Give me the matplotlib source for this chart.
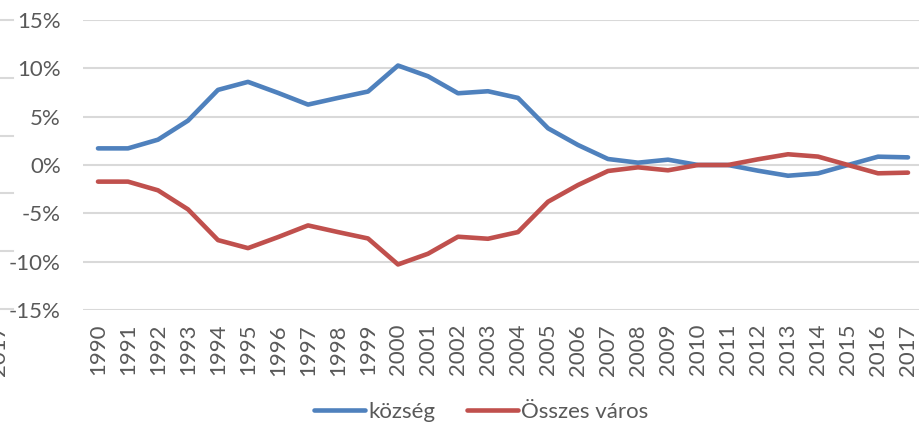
import matplotlib
matplotlib.use("Agg")
import matplotlib.pyplot as plt
from matplotlib.ticker import PercentFormatter
from matplotlib.lines import Line2D

years = [str(y) for y in range(1990, 2018)]
kozseg = [1.72, 1.72, 2.62, 4.59, 7.77, 8.60, 7.46, 6.25, 6.94, 7.60,
          10.29, 9.18, 7.42, 7.63, 6.94, 3.80, 2.07, 0.62, 0.24, 0.55,
          0.00, 0.00, -0.59, -1.11, -0.87, 0.00, 0.86, 0.79]
osszes_varos = [-1.72, -1.72, -2.62, -4.59, -7.77, -8.60, -7.46, -6.25, -6.94, -7.60,
                -10.29, -9.18, -7.42, -7.63, -6.94, -3.80, -2.07, -0.62, -0.24, -0.55,
                0.00, 0.00, 0.59, 1.11, 0.87, 0.00, -0.86, -0.79]
series_names = ["község", "Összes város"]

BLUE = "#4f81bd"
RED = "#c0504d"
TEXT = "#595959"
GRID = "#d9d9d9"

plt.rcParams["font.family"] = ["Lato", "DejaVu Sans"]
plt.rcParams["axes.unicode_minus"] = False

fig = plt.figure(figsize=(9.2, 4.25), dpi=100)
ax = fig.add_axes([83 / 920, 115 / 425, 840 / 920, 290 / 425])

x = range(len(years))
ax.plot(x, kozseg, color=BLUE, lw=3.3, solid_capstyle="round", solid_joinstyle="round")
ax.plot(x, osszes_varos, color=RED, lw=3.3, solid_capstyle="round", solid_joinstyle="round")

ax.set_xlim(-0.5, len(years) - 0.5)
ax.set_ylim(-15, 15)
ax.set_yticks(range(-15, 16, 5))
ax.yaxis.set_major_formatter(PercentFormatter(decimals=0))
ax.set_xticks(list(x))
ax.set_xticklabels(years, rotation=90)
ax.tick_params(axis="y", length=0, pad=16, labelsize=16, labelcolor=TEXT)
ax.tick_params(axis="x", length=0, pad=10, labelsize=16, labelcolor=TEXT)
ax.grid(axis="y", color=GRID, lw=1.5)
ax.set_axisbelow(True)
for s in ax.spines.values():
    s.set_visible(False)

handles = [Line2D([], [], color=BLUE, lw=3.3, solid_capstyle="round"),
           Line2D([], [], color=RED, lw=3.3, solid_capstyle="round")]
fig.legend(handles, series_names, loc="center", bbox_to_anchor=(0.523, 13 / 425), ncol=2,
           frameon=False, fontsize=16, handlelength=2.3, handletextpad=0.15,
           columnspacing=1.4, labelcolor=TEXT)

# leftover edge of the neighbouring chart
for yp in [20, 78, 136, 193, 251, 309]:
    fig.add_artist(Line2D([0, 13 / 920], [1 - yp / 425] * 2, color=GRID, lw=1.5))
fig.text(-1 / 920, 1 - 350 / 425, "2017", rotation=90, fontsize=16, color=TEXT,
         ha="center", va="center")

fig.savefig("out.png", dpi=100)
